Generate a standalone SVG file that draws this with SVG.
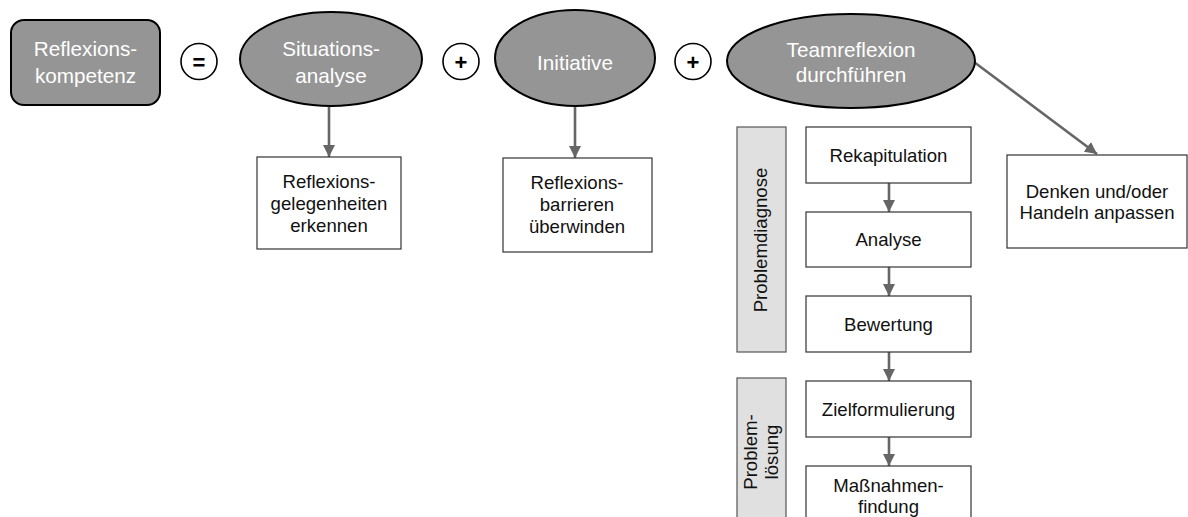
<svg xmlns="http://www.w3.org/2000/svg" width="1188" height="517" viewBox="0 0 1188 517">
  <style>
    .dark { fill: #959595; stroke: #000; stroke-width: 2; }
    .box { fill: #fff; stroke: #333; stroke-width: 1.2; }
    .side { fill: #e0e0e0; stroke: #555; stroke-width: 1.2; }
    .op { fill: #fff; stroke: #000; stroke-width: 1.6; }
    .wt { font-family: "Liberation Sans", Arial, sans-serif; font-size: 20.7px; fill: #fff; text-anchor: middle; }
    .bt { font-family: "Liberation Sans", Arial, sans-serif; font-size: 18.6px; fill: #111; text-anchor: middle; }
    .ot { font-family: "Liberation Sans", Arial, sans-serif; font-size: 22px; font-weight: bold; fill: #000; text-anchor: middle; }
    .conn { stroke: #666; stroke-width: 2.6; fill: none; marker-end: url(#arr); }
  </style>
  <defs>
    <marker id="arr" viewBox="0 0 12 12" refX="12" refY="6" markerWidth="12" markerHeight="12" markerUnits="userSpaceOnUse" orient="auto">
      <path d="M0,0 L12,6 L0,12 z" fill="#666"/>
    </marker>
  </defs>

  <!-- connectors -->
  <g id="connectors">
    <line class="conn" x1="329" y1="107" x2="329" y2="157"/>
    <line class="conn" x1="575" y1="106" x2="575" y2="158"/>
    <line class="conn" x1="974" y1="62" x2="1097" y2="154"/>
    <line class="conn" x1="889" y1="183" x2="889" y2="212"/>
    <line class="conn" x1="889" y1="267" x2="889" y2="296"/>
    <line class="conn" x1="889" y1="352" x2="889" y2="381"/>
    <line class="conn" x1="889" y1="437" x2="889" y2="466"/>
  </g>

  <g id="reflexionskompetenz">
    <rect class="dark" x="11" y="20" width="149" height="85" rx="13"/>
    <text class="wt" x="85.5" y="56">Reflexions-</text>
    <text class="wt" x="85.5" y="83">kompetenz</text>
  </g>

  <g id="op-equals">
    <circle class="op" cx="199" cy="61.5" r="18"/>
    <text class="ot" x="199" y="69.5">=</text>
  </g>

  <g id="situationsanalyse">
    <ellipse class="dark" cx="331" cy="59" rx="91" ry="47"/>
    <text class="wt" x="331" y="56">Situations-</text>
    <text class="wt" x="331" y="83">analyse</text>
  </g>

  <g id="op-plus-1">
    <circle class="op" cx="461" cy="61.5" r="18"/>
    <text class="ot" x="461" y="69.5">+</text>
  </g>

  <g id="initiative">
    <ellipse class="dark" cx="575" cy="58" rx="80" ry="48"/>
    <text class="wt" x="575" y="70">Initiative</text>
  </g>

  <g id="op-plus-2">
    <circle class="op" cx="693" cy="61.5" r="18"/>
    <text class="ot" x="693" y="69.5">+</text>
  </g>

  <g id="teamreflexion">
    <ellipse class="dark" cx="851" cy="61" rx="124" ry="47"/>
    <text class="wt" x="851" y="57">Teamreflexion</text>
    <text class="wt" x="851" y="82">durchführen</text>
  </g>

  <g id="gelegenheiten">
    <rect class="box" x="257" y="157" width="144" height="92"/>
    <text class="bt" x="329" y="188">Reflexions-</text>
    <text class="bt" x="329" y="210">gelegenheiten</text>
    <text class="bt" x="329" y="232">erkennen</text>
  </g>

  <g id="barrieren">
    <rect class="box" x="503" y="158" width="149" height="94"/>
    <text class="bt" x="577" y="189">Reflexions-</text>
    <text class="bt" x="577" y="211">barrieren</text>
    <text class="bt" x="577" y="233">überwinden</text>
  </g>

  <g id="problemdiagnose">
    <rect class="side" x="737" y="127" width="49" height="225"/>
    <text class="bt" transform="translate(767,240) rotate(-90)" x="0" y="0">Problemdiagnose</text>
  </g>

  <g id="problemloesung">
    <rect class="side" x="737" y="378" width="49" height="150"/>
    <text class="bt" transform="translate(757,452) rotate(-90)" x="0" y="0">Problem-</text>
    <text class="bt" transform="translate(778,452) rotate(-90)" x="0" y="0">lösung</text>
  </g>

  <g id="rekapitulation">
    <rect class="box" x="806" y="127" width="165" height="56"/>
    <text class="bt" x="888.5" y="161.5">Rekapitulation</text>
  </g>

  <g id="analyse">
    <rect class="box" x="806" y="212" width="165" height="55"/>
    <text class="bt" x="888.5" y="246">Analyse</text>
  </g>

  <g id="bewertung">
    <rect class="box" x="806" y="296" width="165" height="56"/>
    <text class="bt" x="888.5" y="330.5">Bewertung</text>
  </g>

  <g id="zielformulierung">
    <rect class="box" x="806" y="381" width="165" height="56"/>
    <text class="bt" x="888.5" y="415.5">Zielformulierung</text>
  </g>

  <g id="massnahmenfindung">
    <rect class="box" x="806" y="466" width="165" height="70"/>
    <text class="bt" x="888.5" y="492">Maßnahmen-</text>
    <text class="bt" x="888.5" y="513">findung</text>
  </g>

  <g id="anpassen">
    <rect class="box" x="1007" y="155" width="180" height="93"/>
    <text class="bt" x="1097" y="198">Denken und/oder</text>
    <text class="bt" x="1097" y="219">Handeln anpassen</text>
  </g>
</svg>
